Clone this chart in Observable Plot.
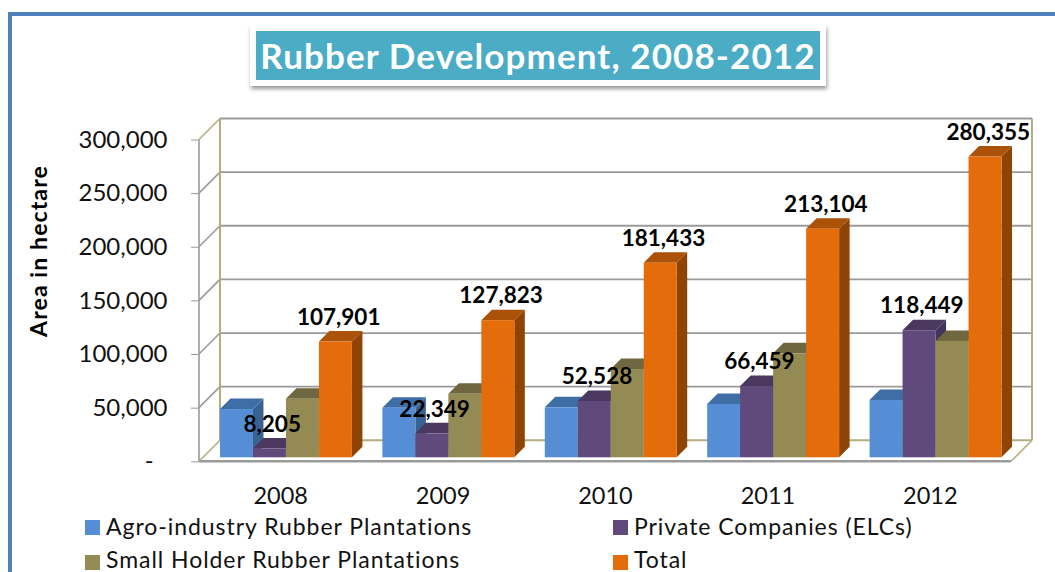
<!DOCTYPE html>
<html>
<head>
<meta charset="utf-8">
<script src="https://cdn.jsdelivr.net/npm/d3@7"></script>
<script src="https://cdn.jsdelivr.net/npm/@observablehq/plot@0.6"></script>
<style>
html,body{margin:0;padding:0;background:#fff;overflow:hidden;width:1055px;height:572px;font-family:Lato,sans-serif;}
#wrap{position:relative;width:1055px;height:572px;overflow:hidden;}
#wrap svg{position:absolute;left:0;top:0;}
#frame{position:absolute;left:8px;top:12px;width:1100px;height:600px;border:4px solid #4f81bd;box-sizing:border-box;}
#titlebox{position:absolute;left:250px;top:25px;width:576px;height:61px;background:#fff;box-shadow:1px 3px 4px rgba(0,0,0,.4);}
#title{position:absolute;left:6px;top:6px;width:564px;height:49px;line-height:49px;background:#4bacc6;color:#fff;font-weight:700;font-size:35px;letter-spacing:1.1px;text-align:center;white-space:nowrap;}
#ylabel{position:absolute;left:38px;top:251px;transform:translate(-50%,-50%) rotate(-90deg);font-weight:700;font-size:23px;letter-spacing:1.1px;white-space:nowrap;color:#000;}
.lg{position:absolute;font-size:23px;line-height:20px;letter-spacing:.95px;color:#111;white-space:nowrap;}
.sw{position:absolute;width:15px;height:15px;}
</style>
</head>
<body>
<div id="wrap"></div>
<script>
const years = ["2008","2009","2010","2011","2012"];
const series = ["Agro-industry Rubber Plantations","Private Companies (ELCs)","Small Holder Rubber Plantations","Total"];
const agro = [45000,46300,46600,49700,53400];
const privateCo = [8205,22349,52528,66459,118449];
const smallHolder = [54696,59174,82305,96945,108506];
const total = [107901,127823,181433,213104,280355];
const frontColors = ["#558ed5","#5f4a7b","#948a54","#e46c0a"];
const topColors = ["#3f6ea6","#4a3860","#6e673f","#ac5208"];
const sideColors = ["#3a6290","#43345a","#635c38","#8f4305"];
const yTicks = [0,50000,100000,150000,200000,250000,300000];

const rows = [];
[agro,privateCo,smallHolder,total].forEach((vals,s)=>vals.forEach((v,i)=>rows.push({year:years[i],series:series[s],value:v})));
const fmt = d3.format(",");

const wallDepth = 21, barDepth = 10.5;
const gray = "#9a9a9a", tan = "#b5ad82";
let frameDrawn = false;
function frameMark(index, scales, values, dims){
  if(frameDrawn) return null;
  frameDrawn = true;
  const ns = "http://www.w3.org/2000/svg";
  const g = document.createElementNS(ns,"g");
  const left = scales.fx(years[0]);
  const last = scales.fx(years[years.length-1]);
  const right = last + (last-left)/(years.length-1);
  const line = (x1,y1,x2,y2,stroke,w)=>{
    const l = document.createElementNS(ns,"line");
    l.setAttribute("x1",x1);l.setAttribute("y1",y1);l.setAttribute("x2",x2);l.setAttribute("y2",y2);
    l.setAttribute("stroke",stroke);l.setAttribute("stroke-width",w);
    g.appendChild(l);
  };
  const y0 = scales.y(0), yT = scales.y(300000);
  yTicks.forEach(t=>{
    const y = scales.y(t);
    const edge = (t===0||t===300000)?tan:gray;
    line(left,y,left+wallDepth,y-wallDepth,edge,1.6);
    line(left+wallDepth,y-wallDepth,right+wallDepth,y-wallDepth,t===0?tan:gray,t===0?2:1.8);
  });
  line(left+wallDepth,yT-wallDepth,left+wallDepth,y0-wallDepth,tan,2);
  line(right+wallDepth,yT-wallDepth,right+wallDepth,y0-wallDepth,tan,2);
  line(right,y0,right+wallDepth,y0-wallDepth,tan,1.6);
  line(left,yT,left,y0,gray,1.6);
  line(left,y0,right,y0,gray,2.6);
  return g;
}
function bars3d(index, scales, values, dims, ctx, next){
  const g = next(index, scales, values, dims, ctx);
  const ns = "http://www.w3.org/2000/svg";
  g.querySelectorAll("rect").forEach(r=>{
    const x=+r.getAttribute("x"), y=+r.getAttribute("y"), w=+r.getAttribute("width"), h=+r.getAttribute("height");
    const k = frontColors.indexOf(r.getAttribute("fill"));
    const d = barDepth;
    const top = document.createElementNS(ns,"polygon");
    top.setAttribute("points",[[x,y],[x+d,y-d],[x+w+d,y-d],[x+w,y]].join(" "));
    top.setAttribute("fill",topColors[k]);
    const side = document.createElementNS(ns,"polygon");
    side.setAttribute("points",[[x+w,y],[x+w+d,y-d],[x+w+d,y+h-d],[x+w,y+h]].join(" "));
    side.setAttribute("fill",sideColors[k]);
    g.insertBefore(side,r);
    g.insertBefore(top,r);
  });
  return g;
}
const chart = Plot.plot({
  width:1055, height:572,
  marginTop:139.5, marginBottom:110.7, marginLeft:199, marginRight:44,
  style:{fontFamily:"Lato, sans-serif",fontSize:"23.5px",color:"#111",background:"transparent"},
  fx:{domain:years,padding:0,round:false,axis:null,label:null},
  x:{domain:series,paddingInner:0,paddingOuter:0.462,round:false,axis:null,label:null},
  y:{domain:[0,300000],axis:null,label:null},
  color:{domain:series,range:frontColors},
  marks:[
    frameMark,
    Plot.axisY(yTicks,{anchor:"left",label:null,tickSize:8,tickPadding:24,stroke:gray,fontSize:24,textStroke:"none",tickFormat:d=>d===0?"-\u2007":fmt(d)}),
    Plot.axisFx({anchor:"bottom",label:null,tickSize:0,tickPadding:26}),
    Plot.barY(rows,{fx:"year",x:"series",y:"value",fill:"series",dx:5.75,dy:-4,render:bars3d}),
    Plot.text(rows.filter(d=>d.series===series[1]),{fx:"year",x:"series",y:"value",text:d=>fmt(d.value),dx:8,dy:-28.5,fontWeight:700,fontSize:22.5,fill:"#000"}),
    Plot.text(rows.filter(d=>d.series===series[3]),{fx:"year",x:"series",y:"value",text:d=>fmt(d.value),dx:8.5,dy:-28.5,fontWeight:700,fontSize:22.5,fill:"#000"})
  ]
});
const wrap = document.getElementById("wrap");
wrap.appendChild(chart);
const add = (html)=>wrap.insertAdjacentHTML("beforeend",html);
add('<div id="frame"></div>');
add('<div id="titlebox"><div id="title">Rubber Development, 2008-2012</div></div>');
add('<div id="ylabel">Area in hectare</div>');
const legendPos = [[85,520],[613,520],[85,555],[613,555]];
series.forEach((s,i)=>{
  const [lx,ly]=legendPos[i];
  add(`<div class="sw" style="left:${lx}px;top:${ly}px;background:${frontColors[i]}"></div>`);
  add(`<div class="lg" style="left:${lx+21}px;top:${ly-(i<2?4.5:6)}px">${s}</div>`);
});
</script>
</body>
</html>
